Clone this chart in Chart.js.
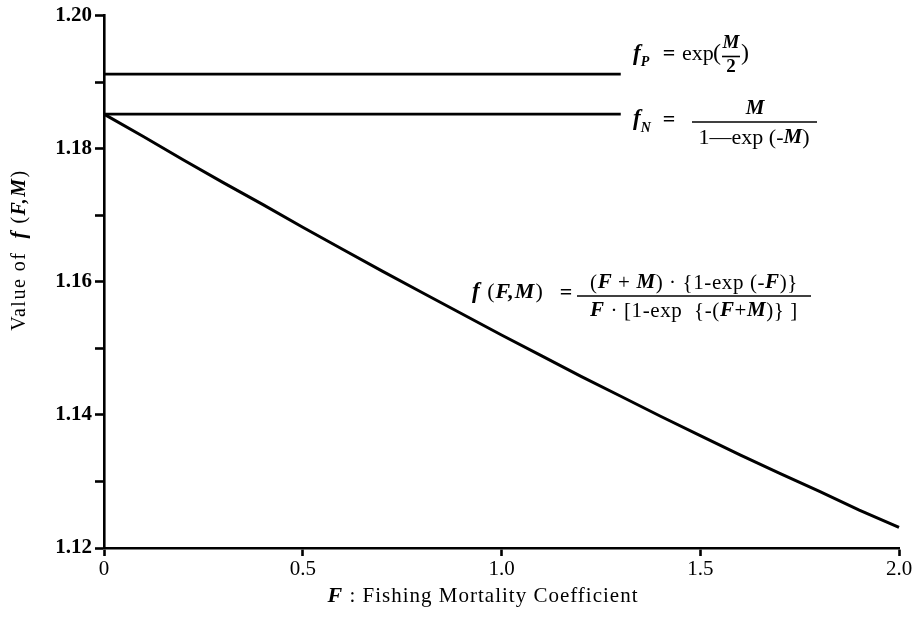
<!DOCTYPE html>
<html lang="en">
<head>
  <meta charset="UTF-8" />
  <title>Value of f(F,M)</title>
  <script src="https://cdn.jsdelivr.net/npm/chart.js"></script>
  <style>
    html, body { margin: 0; padding: 0; background: #fff; }
    canvas { display: block; }
  </style>
</head>
<body>
  <canvas id="chart" width="915" height="623"></canvas>

  <script>
    // values (M = 0.35)
    const fishingF = [0, 0.1, 0.2, 0.3, 0.4, 0.5, 0.6, 0.7, 0.8, 0.9, 1.0,
                      1.1, 1.2, 1.3, 1.4, 1.5, 1.6, 1.7, 1.8, 1.9, 2.0];
    const fValues = [1.1852, 1.1818, 1.1783, 1.1749, 1.1716, 1.1682, 1.1649, 1.1616, 1.1584, 1.1552, 1.1520,
                     1.1489, 1.1458, 1.1428, 1.1398, 1.1369, 1.1340, 1.1312, 1.1285, 1.1257, 1.1231];
    const refF = [0, 1.3];
    const fP = [1.1912, 1.1912];
    const fN = [1.1852, 1.1852];

    const xTickLabels = ['0', '0.5', '1.0', '1.5', '2.0'];
    const yTickLabels = ['1.12', '', '1.14', '', '1.16', '', '1.18', '', '1.20'];

    const SERIF = "'Liberation Serif', 'DejaVu Serif', serif";
    const R = (s) => `${s}px ${SERIF}`;
    const B = (s) => `bold ${s}px ${SERIF}`;
    const I = (s) => `italic bold ${s}px ${SERIF}`;

    const toPts = (xs, ys) => xs.map((x, i) => ({ x, y: ys[i] }));

    // draw a row of [text, font, dy] pieces
    function drawRuns(ctx, parts, x, y, align, spacing) {
      ctx.textBaseline = 'middle';
      ctx.textAlign = 'left';
      ctx.letterSpacing = (spacing || 0) + 'px';
      let w = 0;
      parts.forEach(p => { ctx.font = p[1]; w += ctx.measureText(p[0]).width; });
      let cx = align === 'center' ? x - w / 2 : x;
      parts.forEach(p => {
        ctx.font = p[1];
        ctx.fillText(p[0], cx, y + (p[2] || 0));
        cx += ctx.measureText(p[0]).width;
      });
      ctx.letterSpacing = '0px';
      return cx;
    }

    function bar(ctx, x1, x2, y) {
      ctx.beginPath();
      ctx.moveTo(x1, y);
      ctx.lineTo(x2, y);
      ctx.stroke();
    }

    const labelsPlugin = {
      id: 'labels',
      afterDraw(chart) {
        const ctx = chart.ctx;
        ctx.save();
        ctx.fillStyle = '#000';
        ctx.strokeStyle = '#000';
        ctx.lineWidth = 1.6;

        // axis titles
        drawRuns(ctx, [['F', I(22)], [' : ', R(21)], ['Fishing Mortality Coefficient', R(21)]], 483, 596, 'center', 1);
        ctx.save();
        ctx.translate(20, 250);
        ctx.rotate(-Math.PI / 2);
        drawRuns(ctx, [['Value of  ', R(20)], ['f', I(21)], [' (', R(20)], ['F,M', I(20)], [')', R(20)]], 0, 0, 'center', 1.5);
        ctx.restore();

        // f_P = exp(M/2)
        drawRuns(ctx, [['f', I(23)], ['P', I(14), 8]], 633, 54, 'left');
        drawRuns(ctx, [['=', B(22)]], 669, 54, 'center');
        drawRuns(ctx, [['exp', R(22)]], 682, 54, 'left');
        drawRuns(ctx, [['(', R(24)]], 713, 54, 'left');
        drawRuns(ctx, [['M', I(19)]], 731, 43, 'center');
        bar(ctx, 722, 740, 56.5);
        drawRuns(ctx, [['2', B(19)]], 731, 67, 'center');
        drawRuns(ctx, [[')', R(24)]], 741, 54, 'left');

        // f_N = M / (1 - exp(-M))
        drawRuns(ctx, [['f', I(23)], ['N', I(14), 9]], 633, 119, 'left');
        drawRuns(ctx, [['=', B(22)]], 669, 120, 'center');
        bar(ctx, 692, 817, 122);
        drawRuns(ctx, [['M', I(21)]], 755, 109, 'center');
        drawRuns(ctx, [['1\u2014exp (-', R(22)], ['M', I(21)], [')', R(22)]], 754, 138, 'center');

        // f(F,M) = ...
        drawRuns(ctx, [['f', I(23)], [' (', R(22)], ['F,M', I(22)], [')', R(22)]], 472, 292, 'left', 1);
        drawRuns(ctx, [['=', B(22)]], 566, 293, 'center');
        bar(ctx, 577, 811, 296);
        drawRuns(ctx, [['(', R(21)], ['F', I(21)], [' + ', R(21)], ['M', I(21)], [') \u00b7 {1-exp (-', R(21)], ['F', I(21)], [')}', R(21)]], 694, 283, 'center', 0.6);
        drawRuns(ctx, [['F', I(21)], [' \u00b7 [1-exp  {-(', R(21)], ['F', I(21)], ['+', R(21)], ['M', I(21)], [')} ]', R(21)]], 694, 311, 'center', 0.6);

        ctx.restore();
      }
    };

    const lineStyle = {
      borderColor: '#000',
      borderWidth: 2.6,
      pointRadius: 0,
      fill: false,
      tension: 0,
      clip: false
    };

    new Chart(document.getElementById('chart'), {
      type: 'line',
      data: {
        datasets: [
          { label: 'f(F,M)', data: toPts(fishingF, fValues), ...lineStyle, borderWidth: 3 },
          { label: 'fP', data: toPts(refF, fP), ...lineStyle },
          { label: 'fN', data: toPts(refF, fN), ...lineStyle }
        ]
      },
      options: {
        responsive: false,
        animation: false,
        layout: { padding: { top: 15, right: 16, left: 0, bottom: 0 } },
        plugins: { legend: { display: false }, tooltip: { enabled: false } },
        scales: {
          x: {
            type: 'linear',
            min: 0,
            max: 2,
            afterFit: (s) => { s.height = 75; },
            ticks: {
              stepSize: 0.5,
              color: '#000',
              padding: 1,
              maxRotation: 0,
              font: { family: SERIF, size: 21 },
              callback: (v, i) => xTickLabels[i]
            },
            grid: { drawOnChartArea: false, tickLength: 8, tickColor: '#000', tickWidth: 2.6, color: '#000' },
            border: { color: '#000', width: 2.6 }
          },
          y: {
            min: 1.12,
            max: 1.20,
            afterFit: (s) => { s.width = 104; },
            ticks: {
              stepSize: 0.01,
              color: '#000',
              padding: 3,
              font: { family: SERIF, size: 21, weight: 'bold' },
              callback: (v, i) => yTickLabels[i]
            },
            grid: { drawOnChartArea: false, tickLength: 9, tickColor: '#000', tickWidth: 2.6, color: '#000' },
            border: { color: '#000', width: 2.6 }
          }
        }
      },
      plugins: [labelsPlugin]
    });
  </script>
</body>
</html>
